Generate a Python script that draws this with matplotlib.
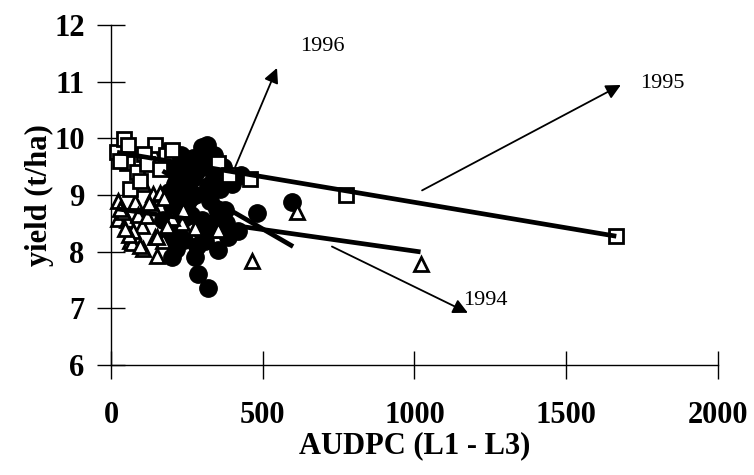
import matplotlib
matplotlib.use("Agg")
import matplotlib.pyplot as plt
import numpy as np

plt.rcParams["font.family"] = ["Liberation Serif", "DejaVu Serif"]

# ---- observations: AUDPC (L1 - L3) vs. grain yield (t/ha) ----
audpc_1994 = [23, 79, 138, 161, 138, 234, 23, 102, 53, 72, 145, 171, 63, 105, 151,
              234, 69, 151, 105, 237, 277, 353, 40, 90, 200,
              30, 60, 120, 185, 125, 95, 175, 45,
              465, 613, 1020]
yield_1994 = [8.90, 8.87, 9.01, 9.04, 8.78, 8.74, 8.57, 8.46, 8.55, 8.37, 8.25, 8.19,
              8.19, 8.04, 7.93, 8.51, 8.16, 8.25, 9.19, 8.74, 8.42, 8.39,
              8.70, 8.65, 8.60,
              8.75, 8.30, 8.62, 8.45, 8.85, 8.10, 8.95, 8.40,
              7.84, 8.70, 7.78]

audpc_1995 = [20, 43, 56, 53, 86, 63, 145, 110, 120, 180, 200,
              353, 390, 458, 30, 95, 160, 774, 1665]
yield_1995 = [9.75, 9.98, 9.88, 9.57, 9.40, 9.10, 9.88, 9.72, 9.55, 9.70, 9.80,
              9.56, 9.35, 9.28, 9.60, 9.25, 9.45, 9.00, 8.27]

audpc_1996 = [178, 200, 230, 260, 300, 316, 240, 210, 190, 270, 330, 360, 400, 430,
              277, 326, 376, 481, 418, 385, 277, 353, 310, 201, 287, 320, 283, 240,
              220, 170, 596, 250, 300, 350,
              180, 210, 250, 270, 290, 340, 370, 230, 200, 260, 320, 350, 190, 240,
              300, 380, 215, 265, 335, 280, 310, 255, 345]
yield_1996 = [9.75, 9.60, 9.70, 9.55, 9.84, 9.88, 9.35, 9.20, 9.05, 9.30, 9.45, 9.10,
              9.20, 9.35, 9.00, 8.90, 8.73, 8.69, 8.37, 8.25, 7.90, 8.02, 8.19, 7.90,
              7.60, 7.36, 8.10, 8.60, 8.40, 8.55, 8.87, 8.85, 8.55, 8.55,
              9.50, 9.40, 9.45, 9.65, 9.60, 9.70, 9.50, 8.95, 8.80, 8.95, 9.15, 8.75,
              8.30, 8.20, 8.35, 8.50, 8.05, 8.65, 9.25, 9.40, 9.55, 9.15, 8.40]

# ---- linear regressions per season: intercept, slope, AUDPC range ----
fit_years = ["1994", "1995", "1996"]
fit_intercept = [8.77, 9.77, 9.95]
fit_slope = [-0.00076, -0.00090, -0.0031]
fit_xmin = [20, 20, 170]
fit_xmax = [1020, 1665, 600]

# ---- year labels: arrow start, arrow tip, text position ----
label_years = ["1994", "1995", "1996"]
arrow_start = [(728, 8.09), (1025, 9.08), (409, 9.49)]
arrow_tip = [(1176, 6.92), (1680, 10.94), (547, 11.24)]
label_pos = [(1160, 7.13), (1743, 10.96), (623, 11.61)]

x_ticks = [0, 500, 1000, 1500, 2000]
y_ticks = [6, 7, 8, 9, 10, 11, 12]

fig = plt.figure(figsize=(7.54, 4.75), dpi=100)
ax = fig.add_axes([0.1472, 0.2316, 0.805, 0.716])

# filled circles first so the open markers stay visible on top of them
ax.plot(audpc_1996, yield_1996, "o", ms=12.5, mfc="black", mec="black",
        ls="none", zorder=3, clip_on=False)
ax.plot(audpc_1994, yield_1994, "^", ms=10.5, mfc="white", mec="black", mew=2.0,
        ls="none", zorder=4, clip_on=False)
ax.plot(audpc_1995, yield_1995, "s", ms=10.5, mfc="white", mec="black", mew=2.0,
        ls="none", zorder=4, clip_on=False)

for b0, b1, x0, x1 in zip(fit_intercept, fit_slope, fit_xmin, fit_xmax):
    xs = np.array([x0, x1])
    ax.plot(xs, b0 + b1 * xs, color="black", lw=3.4, solid_capstyle="butt", zorder=5)

for yr, s, t, p in zip(label_years, arrow_start, arrow_tip, label_pos):
    ax.annotate("", xy=t, xytext=s,
                arrowprops=dict(arrowstyle="-|>", color="black", lw=1.3,
                                mutation_scale=22, shrinkA=0, shrinkB=0),
                zorder=6)
    ax.text(p[0], p[1], yr, fontsize=16, ha="left", va="center", color="black")

ax.set_xlim(0, 2000)
ax.set_ylim(6, 12)
ax.set_xticks(x_ticks)
ax.set_yticks(y_ticks)
ax.set_xticklabels([str(v) for v in x_ticks])
ax.set_yticklabels([str(v) for v in y_ticks])

for side in ("top", "right"):
    ax.spines[side].set_visible(False)
for side in ("left", "bottom"):
    ax.spines[side].set_linewidth(1.0)

ax.tick_params(axis="both", direction="inout", length=20, width=1.0,
               labelsize=22)
ax.tick_params(axis="x", pad=16)
ax.tick_params(axis="y", pad=9)
for lab in ax.get_xticklabels() + ax.get_yticklabels():
    lab.set_fontweight("bold")

ax.set_xlabel("AUDPC (L1 - L3)", fontsize=22, fontweight="bold", labelpad=1)
ax.set_ylabel("yield (t/ha)", fontsize=22, fontweight="bold", labelpad=0)

fig.savefig("out.png", dpi=100, facecolor="white")
